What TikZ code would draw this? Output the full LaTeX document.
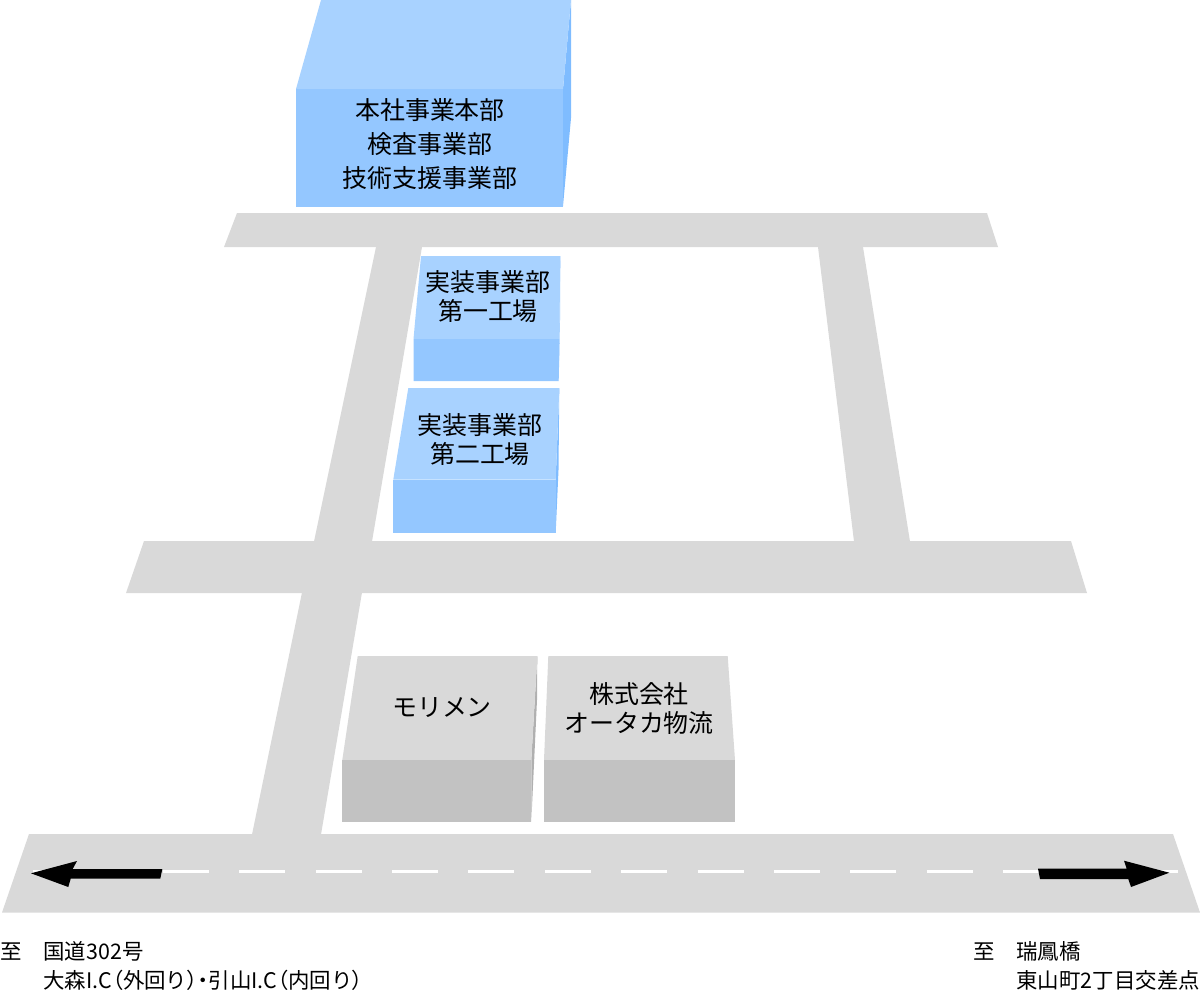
\documentclass[tikz,border=0pt]{standalone}
\usepackage{fontspec}
\setmainfont{Noto Sans CJK JP}
\newfontfamily\pf[RawFeature=+palt]{Noto Sans CJK JP}
\newcommand{\bigfs}{\fontsize{14.2}{19.1}\selectfont}
\newcommand{\smallfs}{\fontsize{12.2}{16.2}\selectfont}
\newcommand{\tightfs}{\fontsize{14.2}{16.5}\selectfont}
\tikzset{
  road/.style={fill=roadc,draw=none},
  btop/.style={fill=bluetop,draw=none},
  bfront/.style={fill=bluefront,draw=none},
  bside/.style={fill=blueside,draw=none},
  gtop/.style={fill=roadc,draw=none},
  gfront/.style={fill=grayfront,draw=none},
  gside/.style={fill=grayside,draw=none},
  lbl/.style={inner sep=0pt,outer sep=0pt,align=center,text=black,font=\bigfs},
  lbltight/.style={lbl,font=\tightfs},
  caption text/.style={inner sep=0pt,outer sep=0pt,anchor=base west,text=black,font=\smallfs},
  dirarrow/.style={fill=black,draw=none},
}
\definecolor{roadc}{HTML}{D9D9D9}
\definecolor{bluetop}{HTML}{A8D2FF}
\definecolor{bluefront}{HTML}{94C7FF}
\definecolor{blueside}{HTML}{7FBCFF}
\definecolor{grayfront}{HTML}{C2C2C2}
\definecolor{grayside}{HTML}{B0B0B0}
\begin{document}
\begin{tikzpicture}[x=0.02cm,y=-0.02cm]
\useasboundingbox (0,0) rectangle (1200,990);
% roads
\fill[road] (224,247) -- (237,213) -- (987,213) -- (998,247) -- cycle;
\fill[road] (126,593) -- (144,541) -- (1071,541) -- (1087,593) -- cycle;
\fill[road] (2,912.5) -- (29,834) -- (1173,834) -- (1200,912.5) -- cycle;
\fill[road] (376,247) -- (422,247) -- (372,541.5) -- (314,541.5) -- cycle;
\fill[road] (302,592.5) -- (362,592.5) -- (321,834.5) -- (252,834.5) -- cycle;
\fill[road] (818,247) -- (863,247) -- (910,541.5) -- (854,541.5) -- cycle;
% centre line
\draw[white,line width=1.7pt,dash pattern=on 26.18pt off 17.29pt,dash phase=13pt] (33,871) -- (1178,871);
% head office
\fill[bside] (571,0) -- (571,118) -- (563,206) -- (563,89) -- cycle;
\fill[btop] (296,89) -- (321,0) -- (571,0) -- (563,89) -- cycle;
\fill[bfront] (296,89) rectangle (563,206.5);
% factory 1
\fill[bside] (560.3,256) -- (560,320) -- (558.7,381) -- (559.3,339) -- cycle;
\fill[btop] (413.5,339) -- (421,256) -- (560.3,256) -- (559.3,339) -- cycle;
\fill[bfront] (413.5,339) -- (559.3,339) -- (558.7,381) -- (413.5,381) -- cycle;
% factory 2
\fill[bside] (559.3,388) -- (558.5,470) -- (555.7,532.7) -- (555.7,479.5) -- cycle;
\fill[btop] (393.3,479.5) -- (408.3,388) -- (559.3,388) -- (555.7,479.5) -- cycle;
\fill[bfront] (393.3,479.5) rectangle (555.7,532.7);
% Morimen
\fill[gside] (537.3,656) -- (537,700) -- (531.3,821.5) -- (531.3,760) -- cycle;
\fill[gtop] (342.3,760) -- (357.7,656) -- (537.3,656) -- (531.3,760) -- cycle;
\fill[gfront] (342.3,760) rectangle (531.3,821.5);
% Otaka
\fill[gtop] (544,760) -- (548.3,656) -- (727.7,656) -- (735,760) -- cycle;
\fill[gfront] (544,760) rectangle (735,821.5);
% arrows
\fill[dirarrow] (31,873.3) -- (77,861) -- (72.7,869) -- (162.3,869) -- (160.3,878.7) -- (70.7,878.7) -- (68.3,887) -- cycle;
\fill[dirarrow] (1169.3,872.7) -- (1124,860.7) -- (1126.7,868.7) -- (1038,868.7) -- (1040,879) -- (1128.3,879) -- (1131,887) -- cycle;
% labels
\node[lbl] (hq) at (430,144) {本社事業本部\\検査事業部\\技術支援事業部};
\node[lbltight] (f1) at (488,297) {実装事業部\\第一工場};
\node[lbltight] (f2) at (480,439.5) {実装事業部\\第二工場};
\node[lbl] (mori) at (442,707.7) {モリメン};
\node[lbltight] (otaka) at (639,708.5) {株式会社\\オータカ物流};
\node[caption text] (toL) at (0.5,959.5) {至};
\node[caption text] (l1) at (43.5,959.5) {国道302号};
\node[caption text] (l2) at (43.5,988) {大森I.C{\pf（}外回り{\pf）・}引山I.C{\pf（}内回り{\pf）}};
\node[caption text] (toR) at (973,959.5) {至};
\node[caption text] (r1) at (1016.5,959.5) {瑞鳳橋};
\node[caption text] (r2) at (1016.5,988) {東山町2丁目交差点};
\end{tikzpicture}
\end{document}
